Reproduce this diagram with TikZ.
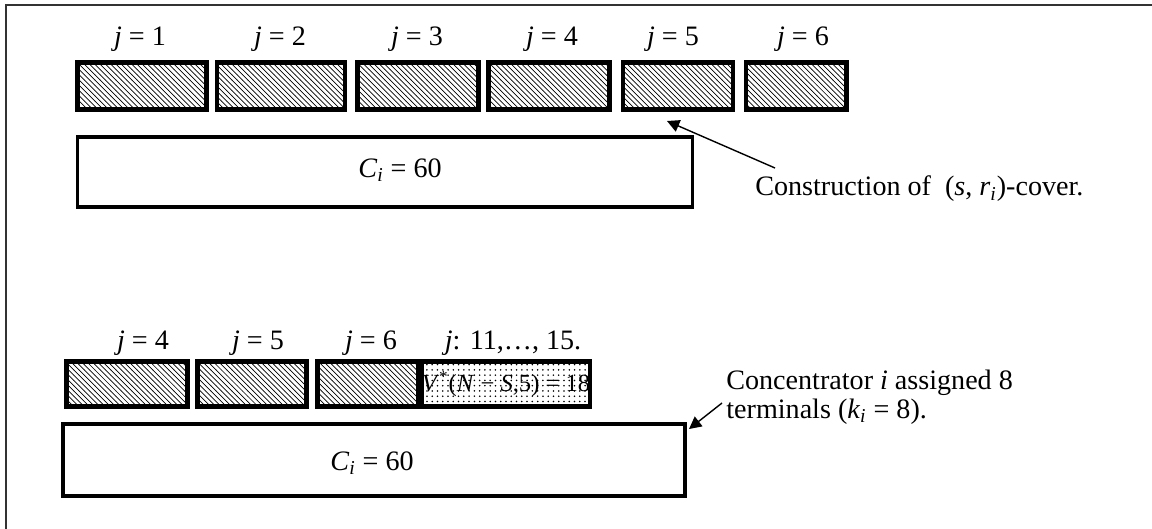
\documentclass[tikz,border=0pt]{standalone}
\usepackage{fontspec}
\setmainfont{Liberation Serif}
\usetikzlibrary{positioning, arrows.meta, patterns}

\begin{document}
\begin{tikzpicture}[
    x=0.02cm, y=-0.02cm,
    >={Triangle[length=7pt, width=7pt]},
    every node/.style = {font=\fontsize{16}{16.5}\selectfont},
    slot/.style    = {rectangle, draw=black, line width=2.3pt, minimum height=0.9cm, inner sep=0pt, pattern=north west lines},
    restslot/.style = {slot, pattern=dots, font=\fontsize{14}{16}\selectfont},
    conc/.style    = {rectangle, draw=black, line width=2pt, inner sep=0pt},
    note/.style    = {align=left, anchor=west, inner sep=0pt},
]
\useasboundingbox (0,0) rectangle (1152,528);

% frame
\draw[line width=1.2pt, black!80] (6,535) -- (6,5) -- (1160,5);

% first stage: terminals j = 1..6
\node[slot, minimum width=2.58cm, minimum height=0.94cm] (s1) at (142,86) {};
\node[slot, minimum width=2.56cm, minimum height=0.94cm] (s2) at (281,86) {};
\node[slot, minimum width=2.42cm, minimum height=0.94cm] (s3) at (418,86) {};
\node[slot, minimum width=2.42cm, minimum height=0.94cm] (s4) at (549,86) {};
\node[slot, minimum width=2.20cm, minimum height=0.94cm] (s5) at (678,86) {};
\node[slot, minimum width=2.02cm, minimum height=0.94cm] (s6) at (796,86) {};
\node (j1) at (140,39) {\textit{j} = 1};
\node (j2) at (280,39) {\textit{j} = 2};
\node (j3) at (417,39) {\textit{j} = 3};
\node (j4) at (552,39) {\textit{j} = 4};
\node (j5) at (673,39) {\textit{j} = 5};
\node (j6) at (803,39) {\textit{j} = 6};

% concentrator capacity
\node[conc, minimum width=12.3cm, minimum height=1.4cm] (cap1) at (385,172) {};
\node (cap1txt) at (400,170) {\textit{C}\textsubscript{\textit{i}} = 60};

% note on the cover
\node[note] (cover) at (755,189) {Construction of \ (\textit{s}, \textit{r}\textsubscript{\textit{i}})-cover.};
\coordinate (cover-tip) at (667,121);
\coordinate (cover-end) at (775,168);
\draw[->, line width=0.8pt] (cover-end) -- (cover-tip);

% second stage: assigned terminals
\node[slot, minimum width=2.42cm] (t4) at (127,384) {};
\node[slot, minimum width=2.18cm] (t5) at (252,384) {};
\node[slot, minimum width=2.02cm] (t6) at (368,384) {};
\node[restslot, minimum width=3.12cm] (trest) at (506,384)
    {\textit{V}\textsuperscript{*}(\textit{N} − \textit{S},5) = 18};
\node (k4) at (143,343) {\textit{j} = 4};
\node (k5) at (258,343) {\textit{j} = 5};
\node (k6) at (371,343) {\textit{j} = 6};
\node (krest) at (513,343) {\textit{j}: 11,…, 15.};

% concentrator capacity
\node[conc, minimum width=12.44cm, minimum height=1.44cm] (cap2) at (374,460) {};
\node (cap2txt) at (372,463) {\textit{C}\textsubscript{\textit{i}} = 60};

% note on the assignment
\node[note] (assign) at (726,397) {Concentrator \textit{i} assigned 8\\terminals (\textit{k}\textsubscript{\textit{i}} = 8).};
\coordinate (assign-tip) at (689,429);
\coordinate (assign-end) at (722,403);
\draw[->, line width=0.8pt] (assign-end) -- (assign-tip);

\end{tikzpicture}
\end{document}
